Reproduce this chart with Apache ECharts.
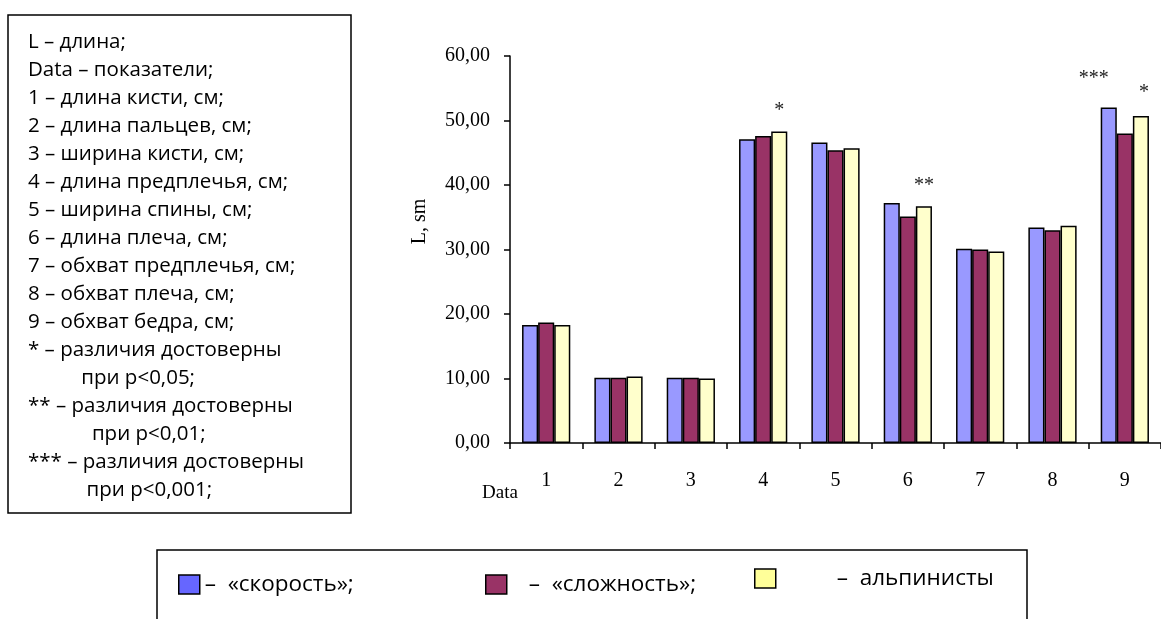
<!DOCTYPE html>
<html>
<head>
<meta charset="utf-8">
<script src="https://cdn.jsdelivr.net/npm/echarts@6/dist/echarts.min.js"></script>
<style>
html,body{margin:0;padding:0;background:#fff;}
#chart{width:1161px;height:619px;}
</style>
</head>
<body>
<div id="chart"></div>
<script>
const categories = ['1','2','3','4','5','6','7','8','9'];
const seriesNames = ['«скорость»', '«сложность»', 'альпинисты'];
const speed      = [18.3, 10.1, 10.1, 47.1, 46.6, 37.2, 30.1, 33.4, 52.0];
const difficulty = [18.7, 10.1, 10.1, 47.6, 45.4, 35.1, 30.0, 33.0, 48.0];
const climbers   = [18.3, 10.3, 10.0, 48.3, 45.7, 36.7, 29.7, 33.7, 50.7];
// significance marks: [seriesIndex, categoryIndex, mark]
const marks = [[2, 3, '*'], [2, 5, '**'], [0, 8, '***'], [2, 8, '*']];
const yTicks = [0, 10, 20, 30, 40, 50, 60];
const noteLines = [
  'L – длина;',
  'Data – показатели;',
  '1 – длина кисти, см;',
  '2 – длина пальцев, см;',
  '3 – ширина кисти, см;',
  '4 – длина предплечья, см;',
  '5 – ширина спины, см;',
  '6 – длина плеча, см;',
  '7 – обхват предплечья, см;',
  '8 – обхват плеча, см;',
  '9 – обхват бедра, см;',
  '* – различия достоверны',
  '          при р<0,05;',
  '** – различия достоверны',
  '            при р<0,01;',
  '*** – различия достоверны',
  '           при р<0,001;'
];
const legendTexts = ['–  «скорость»;', '–  «сложность»;', '–  альпинисты'];

const barColors = ['#9999FF', '#993366', '#FFFFCC'];
const legendColors = ['#6666FF', '#993366', '#FFFF99'];
const serif = '"Liberation Serif", "Times New Roman", serif';
const sans = '"Open Sans", Lato, sans-serif';

function buildData(vals, si) {
  return vals.map((v, ci) => {
    const m = marks.find(mk => mk[0] === si && mk[1] === ci);
    if (!m) return v;
    const off = m[2] === '***' ? [-15, -8] : (si === 2 && ci === 8 ? [3, -2] : [0, 0]);
    return {
      value: v,
      label: {
        show: true, position: 'top', distance: 11, formatter: m[2], offset: off,
        fontFamily: serif, fontSize: 20, color: '#222'
      }
    };
  });
}

const allVals = [speed, difficulty, climbers];
const series = allVals.map((vals, si) => ({
  name: seriesNames[si],
  type: 'bar',
  data: buildData(vals, si),
  barGap: '0%',
  barCategoryGap: '33.3%',
  itemStyle: { color: barColors[si], borderColor: '#000', borderWidth: 1.5 },
  emphasis: { disabled: true },
  animation: false
}));

const graphics = [{
  type: 'rect', shape: { x: 8, y: 15, width: 343, height: 498 },
  style: { fill: '#fff', stroke: '#000', lineWidth: 1.5 }, z: 0
}];
noteLines.forEach((t, i) => {
  graphics.push({
    type: 'text', x: 28, y: 42 + i * 28,
    style: { text: t, fill: '#000', font: '20.5px ' + sans, textVerticalAlign: 'middle', textAlign: 'left' }
  });
});
graphics.push({
  type: 'text', x: 500, y: 493,
  style: { text: 'Data', fill: '#000', font: '19px ' + serif, textAlign: 'center', textVerticalAlign: 'middle' }
});
graphics.push({
  type: 'rect', shape: { x: 157, y: 550, width: 870, height: 120 },
  style: { fill: 'none', stroke: '#000', lineWidth: 1.5 }, z: 0
});

const legendPos = [
  { left: 173, top: 568, pad: 0, padTop: 0 },
  { left: 480, top: 568, pad: 17, padTop: 0 },
  { left: 749, top: 562, pad: 56, padTop: 10 }
];
const legends = seriesNames.map((n, i) => ({
  data: [{ name: n, itemStyle: { color: legendColors[i], borderColor: '#000', borderWidth: 1.5 } }],
  left: legendPos[i].left, top: legendPos[i].top,
  itemWidth: 21, itemHeight: 19, icon: 'rect',
  selectedMode: false,
  formatter: () => legendTexts[i],
  textStyle: { fontFamily: sans, fontSize: 22.5, color: '#000', padding: [legendPos[i].padTop, 0, 0, legendPos[i].pad] }
}));

const chart = echarts.init(document.getElementById('chart'), null, { renderer: 'canvas' });
chart.setOption({
  animation: false,
  backgroundColor: '#fff',
  grid: { left: 510, top: 56, width: 660, height: 387, containLabel: false },
  legend: legends,
  xAxis: {
    type: 'category', data: categories,
    axisLine: { lineStyle: { color: '#000', width: 1.5 } },
    axisTick: { show: true, length: 6, inside: false, lineStyle: { color: '#000', width: 1.5 } },
    axisLabel: { fontFamily: serif, fontSize: 20, color: '#000', margin: 28 }
  },
  yAxis: {
    type: 'value', min: 0, max: 60, interval: 10,
    name: 'L, sm', nameLocation: 'middle', nameGap: 80, nameRotate: 90,
    nameTextStyle: { fontFamily: serif, fontSize: 20, color: '#000', padding: [0, 0, 0, 56] },
    axisLine: { show: true, lineStyle: { color: '#000', width: 1.5 } },
    axisTick: { show: true, length: 6, lineStyle: { color: '#000', width: 1.5 } },
    splitLine: { show: false },
    axisLabel: {
      fontFamily: serif, fontSize: 20, color: '#000', margin: 20,
      formatter: v => yTicks.includes(v) ? v.toFixed(2).replace('.', ',') : ''
    }
  },
  graphic: graphics,
  series: series
});
</script>
</body>
</html>
